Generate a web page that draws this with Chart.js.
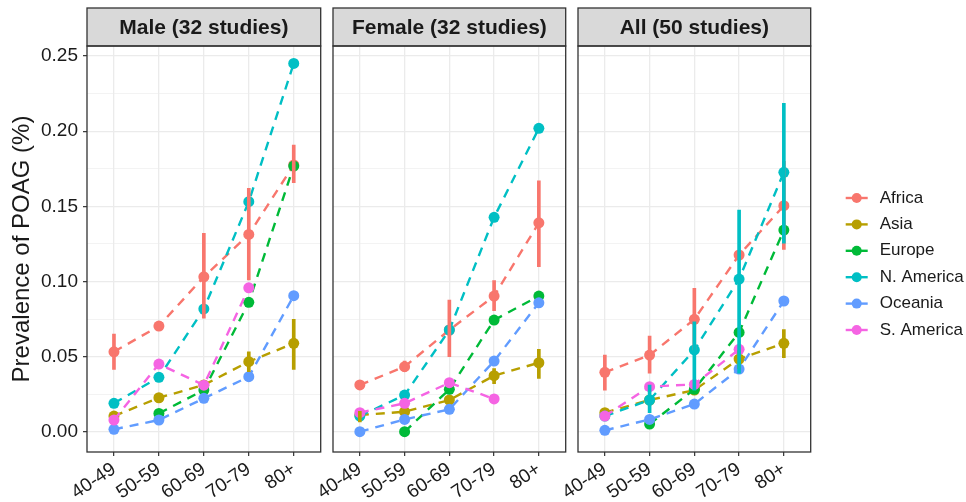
<!DOCTYPE html>
<html>
<head>
<meta charset="utf-8">
<script src="https://cdn.jsdelivr.net/npm/chart.js@4.4.1/dist/chart.umd.min.js"></script>
<style>
  html, body { margin: 0; padding: 0; background: #fff; }
  #wrap { position: relative; width: 966px; height: 502px; overflow: hidden; background: #fff; }
  canvas { position: absolute; top: 0; }
</style>
</head>
<body>
<div id="wrap">
  <canvas id="male" width="330" height="502" style="left:0"></canvas>
  <canvas id="female" width="275" height="502" style="left:300px"></canvas>
  <canvas id="all" width="421" height="502" style="left:545px"></canvas>
</div>
<script>
// Categories and labels
const ageGroups = ['40-49', '50-59', '60-69', '70-79', '80+'];
const regions = ['Africa', 'Asia', 'Europe', 'N. America', 'Oceania', 'S. America'];
const yTicks = [0, 0.05, 0.10, 0.15, 0.20, 0.25];
const panelTitles = ['Male (32 studies)', 'Female (32 studies)', 'All (50 studies)'];

// Prevalence per region (rows follow regions, columns follow ageGroups)
const maleValues = [
  [0.0532, 0.0703, 0.1031, 0.1313, 0.1775],
  [0.0104, 0.0226, 0.0311, 0.0466, 0.0588],
  [null, 0.0122, 0.0277, 0.0861, 0.1768],
  [0.0189, 0.0362, 0.0817, 0.1531, 0.2451],
  [0.0016, 0.0078, 0.0222, 0.0366, 0.0905],
  [0.0078, 0.0450, 0.0310, 0.0958, null]
];
const maleLow = [
  [0.0415, 0.0680, 0.0755, 0.1010, 0.1657],
  [null, null, null, 0.0400, 0.0415],
  [null, null, null, null, null],
  [null, null, null, null, null],
  [null, null, null, null, null],
  [null, null, null, null, null]
];
const maleHigh = [
  [0.0650, 0.0725, 0.1320, 0.1620, 0.1908],
  [null, null, null, 0.0532, 0.0748],
  [null, null, null, null, null],
  [null, null, null, null, null],
  [null, null, null, null, null],
  [null, null, null, null, null]
];

const femaleValues = [
  [0.0311, 0.0433, 0.0677, 0.0903, 0.1390],
  [0.0111, 0.0133, 0.0211, 0.0373, 0.0459],
  [null, 0.0000, 0.0282, 0.0743, 0.0903],
  [0.0104, 0.0244, 0.0677, 0.1427, 0.2019],
  [0.0000, 0.0082, 0.0149, 0.0470, 0.0858],
  [0.0127, 0.0189, 0.0326, 0.0218, null]
];
const femaleLow = [
  [null, 0.0400, 0.0499, 0.0805, 0.1098],
  [0.0065, null, null, 0.0320, 0.0355],
  [null, null, null, null, null],
  [null, null, null, null, null],
  [null, null, null, null, null],
  [null, null, null, null, null]
];
const femaleHigh = [
  [null, 0.0470, 0.0876, 0.1005, 0.1670],
  [0.0135, null, null, 0.0420, 0.0548],
  [null, null, null, null, null],
  [null, null, null, null, null],
  [null, null, null, null, null],
  [null, null, null, null, null]
];

const allValues = [
  [0.0395, 0.0510, 0.0748, 0.1176, 0.1504],
  [0.0127, 0.0211, 0.0277, 0.0484, 0.0588],
  [null, 0.0051, 0.0282, 0.0661, 0.1342],
  [0.0104, 0.0211, 0.0544, 0.1016, 0.1726],
  [0.0009, 0.0082, 0.0184, 0.0417, 0.0870],
  [0.0104, 0.0300, 0.0315, 0.0548, null]
];
const allLow = [
  [0.0277, 0.0389, 0.0544, null, 0.1214],
  [null, null, null, 0.0420, 0.0493],
  [null, null, null, null, null],
  [null, 0.0127, 0.0277, 0.0389, 0.1254],
  [null, null, null, null, null],
  [null, null, null, null, null]
];
const allHigh = [
  [0.0510, 0.0637, 0.0954, null, 0.1800],
  [null, null, null, 0.0540, 0.0679],
  [null, null, null, null, null],
  [null, 0.0310, 0.0732, 0.1475, 0.2185],
  [null, null, null, null, null],
  [null, null, null, null, null]
];

// ggplot default hue palette
const colors = ['#F8766D', '#B79F00', '#00BA38', '#00BFC4', '#619CFF', '#F564E3'];
const FONT = "'Liberation Sans', Arial, sans-serif";

// minor gridlines sit halfway between the labelled ticks
const gridValues = [];
yTicks.forEach((v, i) => {
  gridValues.push(v);
  if (i < yTicks.length - 1) gridValues.push((v + yTicks[i + 1]) / 2);
});
const isMajor = v => yTicks.some(t => Math.abs(t - v) < 1e-9);

function buildDatasets(values, low, high) {
  const sets = [];
  regions.forEach((name, r) => {
    sets.push({
      type: 'line',
      label: name,
      data: ageGroups.map((g, i) => ({ x: i + 1, y: values[r][i] })),
      borderColor: colors[r],
      backgroundColor: colors[r],
      borderWidth: 2.4,
      borderDash: [9, 7],
      pointRadius: 5.5,
      pointHoverRadius: 5.5,
      pointBorderWidth: 0,
      pointBackgroundColor: colors[r],
      spanGaps: false,
      order: 20 - r
    });
  });
  regions.forEach((name, r) => {
    const bars = [];
    ageGroups.forEach((g, i) => {
      if (low[r][i] != null) bars.push({ x: i + 1, y: [low[r][i], high[r][i]] });
    });
    sets.push({
      type: 'bar',
      label: name + ' range',
      data: bars,
      backgroundColor: colors[r],
      borderWidth: 0,
      barThickness: 3,
      grouped: false,
      order: 10 - r
    });
  });
  return sets;
}

// Strip on top of each panel plus the dark panel border
const facetFrame = {
  id: 'facetFrame',
  afterDraw(chart, args, opts) {
    const { ctx, chartArea: a } = chart;
    ctx.save();
    ctx.fillStyle = '#D9D9D9';
    ctx.fillRect(a.left, 8, a.right - a.left, a.top - 8);
    ctx.strokeStyle = '#333333';
    ctx.lineWidth = 1.3;
    ctx.strokeRect(a.left, 8, a.right - a.left, a.top - 8);
    ctx.strokeRect(a.left, a.top, a.right - a.left, a.bottom - a.top);
    ctx.fillStyle = '#1a1a1a';
    ctx.font = 'bold 21px ' + FONT;
    ctx.textAlign = 'center';
    ctx.textBaseline = 'middle';
    ctx.fillText(opts.text, (a.left + a.right) / 2, (8 + a.top) / 2 + 1);
    ctx.restore();
  }
};

// Legend to the right of the last panel
const sideLegend = {
  id: 'sideLegend',
  afterDraw(chart, args, opts) {
    if (!opts.show) return;
    const ctx = chart.ctx;
    const x0 = chart.chartArea.right + 35;
    ctx.save();
    regions.forEach((name, r) => {
      const y = 198 + r * 26.4;
      ctx.strokeStyle = colors[r];
      ctx.lineWidth = 2.4;
      ctx.beginPath();
      ctx.moveTo(x0, y);
      ctx.lineTo(x0 + 22, y);
      ctx.stroke();
      ctx.fillStyle = colors[r];
      ctx.beginPath();
      ctx.arc(x0 + 11, y, 5, 0, Math.PI * 2);
      ctx.fill();
      ctx.fillStyle = '#1a1a1a';
      ctx.font = '17px ' + FONT;
      ctx.textAlign = 'left';
      ctx.textBaseline = 'middle';
      ctx.fillText(name, x0 + 34, y);
    });
    ctx.restore();
  }
};

function makePanel(id, title, values, low, high, first, last, padding) {
  return new Chart(document.getElementById(id), {
    type: 'line',
    data: { datasets: buildDatasets(values, low, high) },
    options: {
      responsive: false,
      animation: false,
      layout: { padding: padding },
      plugins: {
        legend: { display: false },
        tooltip: { enabled: false },
        facetFrame: { text: title },
        sideLegend: { show: last }
      },
      scales: {
        x: {
          type: 'linear',
          min: 0.4,
          max: 5.6,
          offset: false,
          afterBuildTicks: s => { s.ticks = ageGroups.map((g, i) => ({ value: i + 1 })); },
          afterFit: s => { s.height = 50; },
          ticks: {
            callback: v => ageGroups[Math.round(v) - 1],
            minRotation: 34,
            maxRotation: 34,
            autoSkip: false,
            padding: 2,
            color: '#1a1a1a',
            font: { family: FONT, size: 19 }
          },
          grid: { color: '#EBEBEB', lineWidth: 1.3, offset: false, tickColor: '#333333', tickLength: 4, tickWidth: 1.2 },
          border: { display: false }
        },
        y: {
          min: -0.0135,
          max: 0.2567,
          afterBuildTicks: s => { s.ticks = gridValues.map(v => ({ value: v })); },
          afterFit: s => { s.width = first ? 87 : 0; },
          ticks: {
            display: first,
            callback: v => isMajor(v) ? v.toFixed(2) : '',
            padding: 5,
            color: '#1a1a1a',
            font: { family: FONT, size: 19 }
          },
          grid: {
            color: '#EBEBEB',
            lineWidth: c => isMajor(c.tick.value) ? 1.3 : 0.6,
            drawTicks: first,
            tickLength: 4,
            tickWidth: 1.2,
            tickColor: c => isMajor(c.tick.value) ? '#333333' : 'rgba(0,0,0,0)'
          },
          border: { display: false },
          title: {
            display: first,
            text: 'Prevalence of POAG (%)',
            color: '#1a1a1a',
            font: { family: FONT, size: 24 },
            padding: { top: 8, bottom: 0 }
          }
        }
      }
    },
    plugins: [facetFrame, sideLegend]
  });
}

makePanel('male', panelTitles[0], maleValues, maleLow, maleHigh, true, false,
  { left: 0, right: 9.3, top: 46, bottom: 0 });
makePanel('female', panelTitles[1], femaleValues, femaleLow, femaleHigh, false, false,
  { left: 33, right: 9.3, top: 46, bottom: 0 });
makePanel('all', panelTitles[2], allValues, allLow, allHigh, false, true,
  { left: 33, right: 155.3, top: 46, bottom: 0 });
</script>
</body>
</html>
